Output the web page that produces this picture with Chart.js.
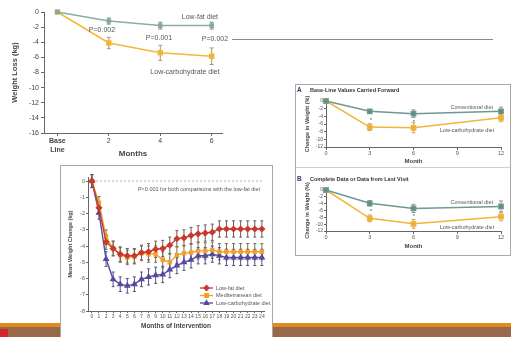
<!DOCTYPE html>
<html>
<head>
<meta charset="utf-8">
<script src="https://cdn.jsdelivr.net/npm/chart.js@4.4.0/dist/chart.umd.min.js"></script>
<style>
body { margin: 0; width: 511px; height: 337px; position: relative; overflow: hidden; background: #fff; }
canvas { position: absolute; }
.box { position: absolute; background: #fff; border: 1px solid #a8a8a8; box-sizing: border-box; }
.bar { position: absolute; }
</style>
</head>
<body>
<div class="bar" style="left:0;top:323px;width:511px;height:4px;background:#e3891d"></div>
<div class="bar" style="left:0;top:327px;width:511px;height:10px;background:#98684a"></div>
<div class="bar" style="left:0;top:329px;width:8px;height:8px;background:#d4262a"></div>
<div class="bar" style="left:232px;top:39px;width:261px;height:1px;background:#8a8a8a"></div>
<div class="box" style="left:295px;top:84px;width:216px;height:172px"></div>
<div class="bar" style="left:296px;top:167px;width:214px;height:1px;background:#d0d0d0"></div>
<div class="box" style="left:60px;top:165px;width:213px;height:176px"></div>

<canvas id="c1" width="232" height="160" style="left:0;top:0"></canvas>
<canvas id="cA" width="213" height="82" style="left:296px;top:85px"></canvas>
<canvas id="cB" width="213" height="86" style="left:296px;top:168px"></canvas>
<canvas id="c3" width="212" height="172" style="left:60px;top:165px"></canvas>

<script>
// --- top-left: low-fat vs low-carb, 6 months (kg)
const months1 = [0, 2, 4, 6];
const monthLabels1 = [['Base', 'Line'], '2', '4', '6'];
const yTicks1 = [0, -2, -4, -6, -8, -10, -12, -14, -16];
const lowFat1 = [0, -1.2, -1.8, -1.8];
const lowFatErr1 = [0, 0.4, 0.45, 0.45];
const lowCarb1 = [0, -4.1, -5.4, -5.85];
const lowCarbErr1 = [0, 0.75, 1.0, 1.1];

// --- right panel: change in weight (%), months 0-12
const monthsAB = [0, 3, 6, 12];
const xTicksAB = [0, 3, 6, 9, 12];
const yTicksAB = [0, -2, -4, -6, -8, -10, -12];
const convA = [0, -2.7, -3.3, -2.7];
const convErrA = [0, 0.5, 1.0, 1.1];
const carbA = [0, -6.8, -7.0, -4.4];
const carbErrA = [0, 0.9, 1.3, 1.0];
const convB = [0, -3.9, -5.4, -4.8];
const convErrB = [0, 0.8, 1.2, 1.6];
const carbB = [0, -8.3, -9.9, -7.8];
const carbErrB = [0, 1.0, 1.3, 1.2];

// --- bottom: 24 month trial (kg)
const months3 = [0, 1, 2, 3, 4, 5, 6, 7, 8, 9, 10, 11, 12, 13, 14, 15, 16, 17, 18, 19, 20, 21, 22, 23, 24];
const yTicks3 = [0, -1, -2, -3, -4, -5, -6, -7, -8];
const lowFat3 = [0, -1.65, -3.75, -4.15, -4.5, -4.6, -4.6, -4.4, -4.35, -4.2, -4.15, -3.95, -3.55, -3.5, -3.35, -3.25, -3.2, -3.15, -2.95, -2.95, -2.95, -2.95, -2.95, -2.95, -2.95];
const med3 = [0, -1.35, -3.45, -4.15, -4.55, -4.7, -4.65, -4.45, -4.5, -4.5, -4.85, -5.0, -4.55, -4.45, -4.4, -4.3, -4.3, -4.25, -4.35, -4.35, -4.35, -4.35, -4.35, -4.35, -4.35];
const lowCarb3 = [0, -1.95, -4.8, -6.05, -6.35, -6.45, -6.35, -6.05, -5.9, -5.8, -5.75, -5.45, -5.2, -5.0, -4.85, -4.6, -4.6, -4.5, -4.6, -4.7, -4.7, -4.7, -4.7, -4.7, -4.7];
const err3 = [0.4, 0.4, 0.45, 0.45, 0.45, 0.45, 0.45, 0.45, 0.5, 0.5, 0.5, 0.5, 0.5, 0.5, 0.5, 0.5, 0.5, 0.5, 0.5, 0.5, 0.5, 0.5, 0.5, 0.5, 0.5];

Chart.defaults.font.family = '"Liberation Sans", Arial, sans-serif';
Chart.defaults.color = '#555';
Chart.defaults.animation = false;
Chart.defaults.events = [];
Chart.defaults.plugins.legend.display = false;
Chart.defaults.plugins.tooltip.enabled = false;

const pts = (xs, ys) => xs.map((x, i) => ({ x: x, y: ys[i] }));

// error bars from dataset.err, drawn through the chart scales
const errorBars = {
    id: 'errorBars',
    beforeDatasetsDraw(chart) {
        const { ctx, scales: { x, y } } = chart;
        chart.data.datasets.forEach(ds => {
            if (!ds.err) return;
            const cap = ds.cap || 2;
            ctx.save();
            ctx.strokeStyle = ds.errColor || ds.borderColor;
            ctx.lineWidth = 1;
            ds.data.forEach((p, j) => {
                const e = ds.err[j];
                if (!e) return;
                const px = x.getPixelForValue(p.x);
                const y1 = y.getPixelForValue(p.y + e);
                const y2 = y.getPixelForValue(p.y - e);
                ctx.beginPath();
                ctx.moveTo(px, y1); ctx.lineTo(px, y2);
                ctx.moveTo(px - cap, y1); ctx.lineTo(px + cap, y1);
                ctx.moveTo(px - cap, y2); ctx.lineTo(px + cap, y2);
                ctx.stroke();
            });
            ctx.restore();
        });
    }
};

// free text notes (pixel positions inside the canvas)
const notes = {
    id: 'notes',
    afterDraw(chart, args, opts) {
        const ctx = chart.ctx;
        (opts.items || []).forEach(n => {
            ctx.save();
            ctx.font = (n.bold ? 'bold ' : '') + (n.size || 7) + 'px "Liberation Sans", Arial, sans-serif';
            ctx.fillStyle = n.color || '#555';
            ctx.textAlign = n.align || 'center';
            ctx.textBaseline = 'middle';
            ctx.fillText(n.t, n.x, n.y);
            ctx.restore();
        });
    }
};
Chart.register(errorBars, notes);

function axisStyle(extra) {
    return Object.assign({
        grid: { drawOnChartArea: false, tickLength: 3, color: '#666' },
        border: { color: '#666' }
    }, extra);
}

// ---------- chart 1
new Chart(document.getElementById('c1'), {
    type: 'line',
    data: {
        datasets: [
            { label: 'Low-fat diet', data: pts(months1, lowFat1), err: lowFatErr1, errColor: '#7a8f8d',
              borderColor: '#8aaca8', backgroundColor: '#7f9e9a', borderWidth: 1.5,
              pointStyle: 'rect', pointRadius: 2.2, clip: false },
            { label: 'Low-carbohydrate diet', data: pts(months1, lowCarb1), err: lowCarbErr1, errColor: '#b0955a',
              borderColor: '#f3b73c', backgroundColor: '#f0b030', borderWidth: 1.5,
              pointStyle: 'rect', pointRadius: 2.8, clip: false }
        ]
    },
    options: {
        responsive: false,
        layout: { padding: { top: 12, right: 10 } },
        plugins: {
            notes: { items: [
                { t: 'Low-fat diet', x: 218, y: 17, align: 'right' },
                { t: 'P=0.002', x: 102, y: 30 },
                { t: 'P=0.001', x: 159, y: 38 },
                { t: 'P=0.002', x: 215, y: 39.5 },
                { t: 'Low-carbohydrate diet', x: 185, y: 72 }
            ] }
        },
        scales: {
            x: axisStyle({
                type: 'linear', min: -0.52, max: 6.4,
                afterBuildTicks: s => { s.ticks = months1.map(v => ({ value: v })); },
                afterFit: s => { s.height = 27; },
                ticks: {
                    callback: (v, i) => monthLabels1[i],
                    font: c => ({ size: 7, weight: c.tick && c.tick.value === 0 ? 'bold' : 'normal' }),
                    color: '#444', padding: 1, maxRotation: 0
                },
                title: { display: true, text: 'Months', font: { size: 8, weight: 'bold' }, color: '#444', padding: { top: 0, bottom: 1 } }
            }),
            y: axisStyle({
                min: -16, max: 0,
                afterBuildTicks: s => { s.ticks = yTicks1.map(v => ({ value: v })); },
                afterFit: s => { s.width = 44; },
                ticks: { font: { size: 7 }, color: '#444', padding: 2, autoSkip: false },
                title: { display: true, text: 'Weight Loss (kg)', font: { size: 7.5, weight: 'bold' }, color: '#444', padding: { top: 10, bottom: 0 } }
            })
        }
    }
});

// ---------- right panel, A and B
function panel(id, conv, convErr, carb, carbErr, padTop, xHeight, xTitlePad, items) {
    return new Chart(document.getElementById(id), {
        type: 'line',
        data: {
            datasets: [
                { label: 'Conventional diet', data: pts(monthsAB, conv), err: convErr, errColor: '#8a9c9a',
                  borderColor: '#6d9894', backgroundColor: '#5e8a86', borderWidth: 1.5,
                  pointStyle: 'rect', pointRadius: 3, clip: false },
                { label: 'Low-carbohydrate diet', data: pts(monthsAB, carb), err: carbErr, errColor: '#c9a860',
                  borderColor: '#f2b43a', backgroundColor: '#f0ac2c', borderWidth: 1.5,
                  pointStyle: 'rect', pointRadius: 3, clip: false }
            ]
        },
        options: {
            responsive: false,
            layout: { padding: { top: padTop, right: 8 } },
            plugins: { notes: { items: items } },
            scales: {
                x: axisStyle({
                    type: 'linear', min: 0, max: 12,
                    afterBuildTicks: s => { s.ticks = xTicksAB.map(v => ({ value: v })); },
                    afterFit: s => { s.height = xHeight; },
                    ticks: { font: { size: 5.5 }, color: '#555', padding: 0, maxRotation: 0, autoSkip: false },
                    title: { display: true, text: 'Month', font: { size: 6, weight: 'bold' }, color: '#444', padding: { top: 0, bottom: xTitlePad } }
                }),
                y: axisStyle({
                    min: -12, max: 0,
                    afterBuildTicks: s => { s.ticks = yTicksAB.map(v => ({ value: v })); },
                    afterFit: s => { s.width = 30; },
                    grid: { drawOnChartArea: false, tickLength: 2, color: '#666' },
                    ticks: { font: { size: 5 }, color: '#555', padding: 1, autoSkip: false },
                    title: { display: true, text: 'Change in Weight (%)', font: { size: 5.5, weight: 'bold' }, color: '#444', padding: { top: 8, bottom: 0 } }
                })
            }
        }
    });
}

panel('cA', convA, convErrA, carbA, carbErrA, 16, 20, 2, [
    { t: 'A', x: 1, y: 5, align: 'left', bold: true, size: 6.5, color: '#2a3a6a' },
    { t: 'Base-Line Values Carried Forward', x: 14, y: 5, align: 'left', bold: true, size: 5.5, color: '#333' },
    { t: 'Conventional diet', x: 197, y: 22, align: 'right', size: 5.5 },
    { t: 'Low-carbohydrate diet', x: 171, y: 45, size: 5.5 },
    { t: '*', x: 75, y: 35, size: 6 },
    { t: '*', x: 118, y: 37, size: 6 }
]);

panel('cB', convB, convErrB, carbB, carbErrB, 22, 23, 4, [
    { t: 'B', x: 1, y: 11, align: 'left', bold: true, size: 6.5, color: '#2a3a6a' },
    { t: 'Complete Data or Data from Last Visit', x: 14, y: 11, align: 'left', bold: true, size: 5.5, color: '#333' },
    { t: 'Conventional diet', x: 197, y: 34, align: 'right', size: 5.5 },
    { t: 'Low-carbohydrate diet', x: 171, y: 59, size: 5.5 },
    { t: '*', x: 75, y: 43, size: 6 },
    { t: '*', x: 118, y: 48, size: 6 }
]);

// ---------- bottom chart, 24 months
const zeroLine = {
    id: 'zeroLine',
    beforeDatasetsDraw(chart) {
        const { ctx, chartArea, scales: { y } } = chart;
        const py = y.getPixelForValue(0);
        ctx.save();
        ctx.strokeStyle = '#aaa';
        ctx.lineWidth = 1;
        ctx.setLineDash([2, 2]);
        ctx.beginPath();
        ctx.moveTo(chartArea.left + 4, py);
        ctx.lineTo(chartArea.right - 2, py);
        ctx.stroke();
        ctx.restore();
    }
};

const legend3 = {
    id: 'legend3',
    afterDraw(chart) {
        const ctx = chart.ctx;
        chart.data.datasets.forEach((ds, i) => {
            const ly = 123 + i * 7.5;
            ctx.save();
            ctx.strokeStyle = ds.borderColor;
            ctx.lineWidth = 1.3;
            ctx.beginPath(); ctx.moveTo(140, ly); ctx.lineTo(153, ly); ctx.stroke();
            ctx.fillStyle = ds.borderColor;
            Chart.helpers.drawPoint(ctx, { pointStyle: ds.pointStyle, radius: 2.5, borderWidth: 1 }, 146.5, ly);
            ctx.font = '5.5px "Liberation Sans", Arial, sans-serif';
            ctx.fillStyle = '#555';
            ctx.textBaseline = 'middle';
            ctx.fillText(ds.label, 156, ly);
            ctx.restore();
        });
    }
};

new Chart(document.getElementById('c3'), {
    type: 'line',
    data: {
        datasets: [
            { label: 'Low-fat diet', data: pts(months3, lowFat3), err: err3, errColor: '#6e5a55', cap: 1.5,
              borderColor: '#c83a2d', backgroundColor: '#c83a2d', borderWidth: 1.4,
              pointStyle: 'rectRot', pointRadius: 2.6, clip: false },
            { label: 'Mediterranean diet', data: pts(months3, med3), err: err3, errColor: '#7a6a50', cap: 1.5,
              borderColor: '#f0a12e', backgroundColor: '#f0a12e', borderWidth: 1.4,
              pointStyle: 'rect', pointRadius: 2.2, clip: false },
            { label: 'Low-carbohydrate diet', data: pts(months3, lowCarb3), err: err3, errColor: '#55508a', cap: 1.5,
              borderColor: '#574a9c', backgroundColor: '#574a9c', borderWidth: 1.4,
              pointStyle: 'triangle', pointRadius: 2.6, clip: false }
        ]
    },
    options: {
        responsive: false,
        layout: { padding: { top: 12, right: 8 } },
        plugins: {
            notes: { items: [
                { t: 'P<0.001 for both comparisons with the low-fat diet', x: 139, y: 24, size: 5.5 }
            ] }
        },
        scales: {
            x: axisStyle({
                type: 'linear', min: -0.55, max: 24.3,
                afterBuildTicks: s => { s.ticks = months3.map(v => ({ value: v })); },
                afterFit: s => { s.height = 26; },
                grid: { drawOnChartArea: false, tickLength: 2, color: '#666' },
                ticks: { font: { size: 5 }, color: '#555', padding: 1, maxRotation: 0, autoSkip: false },
                title: { display: true, text: 'Months of Intervention', font: { size: 6.5, weight: 'bold' }, color: '#444', padding: { top: 0, bottom: 7 } }
            }),
            y: axisStyle({
                min: -8, max: 0.25,
                afterBuildTicks: s => { s.ticks = yTicks3.map(v => ({ value: v })); },
                afterFit: s => { s.width = 28; },
                grid: { drawOnChartArea: false, tickLength: 2, color: '#666' },
                ticks: { font: { size: 5.5 }, color: '#555', padding: 1, autoSkip: false },
                title: { display: true, text: 'Mean Weight Change (kg)', font: { size: 5.5, weight: 'bold' }, color: '#444', padding: { top: 7, bottom: 0 } }
            })
        }
    },
    plugins: [zeroLine, legend3]
});
</script>
</body>
</html>
